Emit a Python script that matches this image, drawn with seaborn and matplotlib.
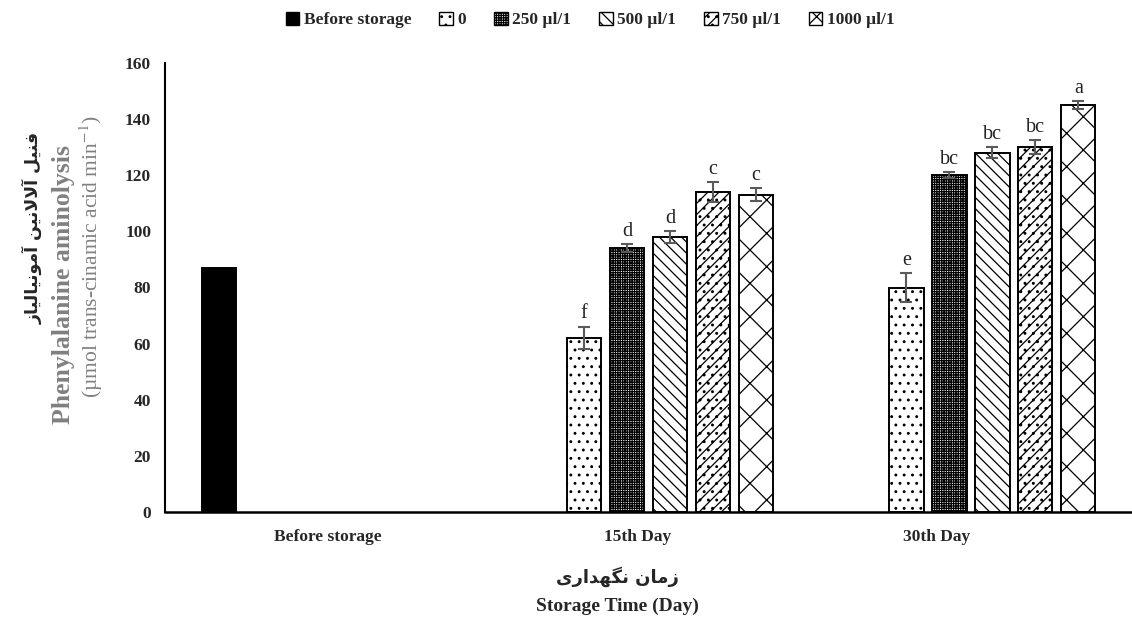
import pandas as pd
import matplotlib
matplotlib.use("Agg")
import matplotlib.pyplot as plt
import matplotlib.transforms as mtransforms
from matplotlib.patches import Patch
import seaborn as sns

# ---- data ----
categories = ["Before storage", "15th Day", "30th Day"]
treatments = ["Before storage", "0", "250 µl/1", "500 µl/1", "750 µl/1", "1000 µl/1"]
before_value = 87
day15_means = [62, 94, 98, 114, 113]
day15_err = [4, 1.5, 2, 3.5, 2.3]
day15_letters = ["f", "d", "d", "c", "c"]
day30_means = [80, 120, 128, 130, 145]
day30_err = [5, 1, 2, 2.5, 1.5]
day30_letters = ["e", "bc", "bc", "bc", "a"]

# Persian labels, written in presentation forms (visual order) so they render joined
xlabel_fa = "".join(chr(c) for c in reversed(
    [0xFEAF, 0xFEE3, 0xFE8E, 0xFEE5, 0x20,
     0xFEE7, 0xFB95, 0xFEEC, 0xFEAA, 0xFE8D, 0xFEAD, 0xFBFC]))
ylabel_fa = "".join(chr(c) for c in reversed(
    [0xFED3, 0xFEE8, 0xFBFF, 0xFEDE, 0x20,
     0xFE81, 0xFEFB, 0xFEFB, 0xFEE7, 0xFBFF, 0xFEE6, 0x20,
     0xFE81, 0xFEE3, 0xFEEE, 0xFEE7, 0xFBFF, 0xFE8E, 0xFEDF, 0xFBFF, 0xFE8E, 0xFEAF]))

hatches = ["", "..", "+++++++", "\\\\\\", "///..", "x"]
colors = ["black", "white", "white", "white", "white", "white"]

sns.set_theme(style="white")
plt.rcParams["font.family"] = ["Liberation Serif", "DejaVu Sans"]
plt.rcParams["mathtext.fontset"] = "stix"
plt.rcParams["hatch.linewidth"] = 0.9
plt.rcParams["hatch.color"] = "black"

# build long table
rows = [{"time": categories[0], "treatment": treatments[0], "value": before_value}]
for t, m in zip(treatments[1:], day15_means):
    rows.append({"time": categories[1], "treatment": t, "value": m})
for t, m in zip(treatments[1:], day30_means):
    rows.append({"time": categories[2], "treatment": t, "value": m})
df = pd.DataFrame(rows)

fig = plt.figure(figsize=(11.32, 6.32), dpi=100)
ax = fig.add_axes([165 / 1132, 120 / 632, 967 / 1132, 449 / 632])

sns.barplot(data=df, x="time", y="value", hue="treatment", order=categories,
            hue_order=treatments, palette=colors, edgecolor="black", linewidth=1.4,
            width=0.8, gap=0.2, errorbar=None, legend=False, ax=ax)

for cont, h in zip(ax.containers, hatches):
    for bar in cont:
        bar.set_hatch(h)
        bar.set_edgecolor("black")

# error bars and letters
errs = list(zip(day15_err, day30_err))
letters = list(zip(day15_letters, day30_letters))
for i, cont in enumerate(ax.containers[1:]):
    for j, bar in enumerate(cont):
        x = bar.get_x() + bar.get_width() / 2
        y = bar.get_height()
        e = errs[i][j]
        ax.errorbar(x, y, yerr=e, color="#5a5a5a", capsize=4, capthick=1.5,
                    elinewidth=1.5, zorder=5)
        ax.text(x, y + e + 1.2, letters[i][j], ha="center", va="bottom",
                fontsize=14.5, color="#222222")

ax.set_ylim(0, 160)
ax.set_yticks(range(0, 161, 20))
ax.set_xlim(-0.5, 2.5)
ax.set_xticks([-0.5, 0.5, 1.5], minor=True)
ax.tick_params(axis="x", which="major", length=0, labelsize=12.5, pad=12)
ax.tick_params(axis="x", which="minor", length=5, width=1.5, direction="out", color="black")
ax.tick_params(axis="y", length=4, width=1, direction="out", color="#777777", labelsize=12.5, pad=6)
for lab in ax.get_xticklabels() + ax.get_yticklabels():
    lab.set_fontweight("bold")
# category labels sit a little left of the group centres, as in the reference
for lab, dx in zip(ax.get_xticklabels(), [2, -11, -34]):
    lab.set_transform(lab.get_transform() + mtransforms.ScaledTranslation(dx / 100, 0, fig.dpi_scale_trans))
ax.set_xlabel("")
ax.set_ylabel("")
sns.despine(ax=ax)
ax.spines["left"].set_linewidth(1.5)
ax.spines["bottom"].set_linewidth(1.8)
ax.spines["left"].set_color("black")
ax.spines["bottom"].set_color("black")

# y axis label (three lines)
fig.text(33 / 1132, 1 - 228 / 632, ylabel_fa, rotation=90, ha="center", va="center",
         fontsize=12.5, fontweight="bold", family=["DejaVu Sans"])
fig.text(64 / 1132, 1 - 285 / 632, "Phenylalanine aminolysis", rotation=90, ha="center",
         va="center", fontsize=18.5, fontweight="bold", color="#808080")
fig.text(91 / 1132, 1 - 257 / 632, "(µmol trans-cinamic acid min$^{-1}$)", rotation=90,
         ha="center", va="center", fontsize=15.5, color="#808080")

# x axis label (two lines)
fig.text(617 / 1132, 1 - 577 / 632, xlabel_fa, ha="center", va="center",
         fontsize=13, fontweight="bold", family=["DejaVu Sans"])
fig.text(617 / 1132, 1 - 606 / 632, "Storage Time (Day)", ha="center", va="center",
         fontsize=14, fontweight="bold")

handles = [Patch(facecolor=c, edgecolor="black", hatch=h, linewidth=1.0)
           for c, h in zip(colors, hatches)]
fig.legend(handles, treatments, loc="center", bbox_to_anchor=(590 / 1132, 1 - 20 / 632),
           ncol=6, frameon=False, handlelength=0.8, handleheight=0.8, handletextpad=0.25,
           columnspacing=1.6, prop={"weight": "bold", "size": 12.5})

fig.savefig("out.png", dpi=100)
